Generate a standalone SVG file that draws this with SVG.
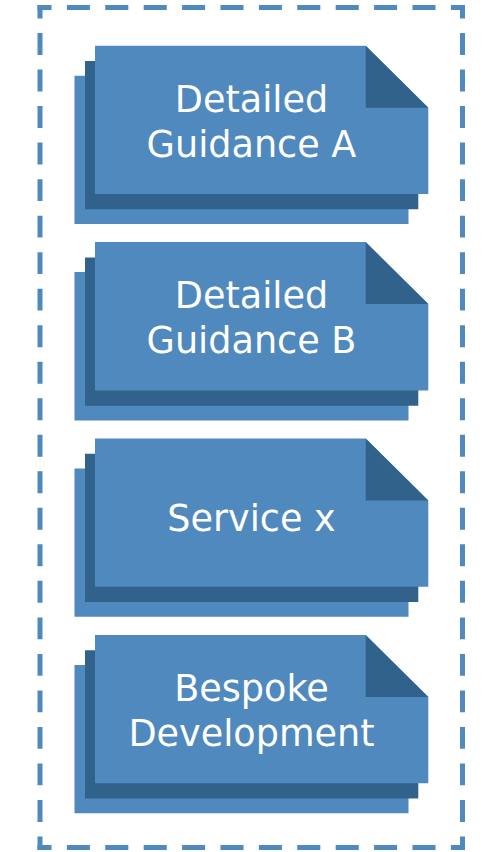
<svg xmlns="http://www.w3.org/2000/svg" width="500" height="852" viewBox="0 0 500 852">
<style>
.bd{fill:none;stroke:#4F89BD;stroke-width:5;stroke-linecap:butt}
.h{stroke-dasharray:23.04 15.36;stroke-dashoffset:9.02}
.v{stroke-dasharray:21.91 14.61;stroke-dashoffset:8.46}
.lt{fill:#4F89BD}
.dk{fill:#30628C}
.tx{font-family:"DejaVu Sans","Verdana",sans-serif;font-size:36.6px;fill:#FFFFFF;text-anchor:middle}
</style>
<defs>
<g id="stack">
<path class="lt" d="M74.5,30 H346 L408.5,92 V178.3 H74.5 Z"/>
<path class="dk" d="M85,15.3 H356 L418.3,77.3 V163.6 H85 Z"/>
<path class="lt" d="M95,0 H365.7 L428.3,62 V148.3 H95 Z"/>
<path class="dk" d="M365.7,0 L428.3,62 H365.7 Z"/>
</g>
</defs>
<g id="container">
<line class="bd h" x1="37.5" y1="7.5" x2="465" y2="7.5"/>
<line class="bd h" x1="37.5" y1="847.5" x2="465" y2="847.5"/>
<line class="bd v" x1="40" y1="5" x2="40" y2="850"/>
<line class="bd v" x1="462.5" y1="5" x2="462.5" y2="850"/>
</g>
<g id="node-guidance-a">
<use href="#stack" x="0" y="45.7"/>
<text class="tx" x="251.5" y="111.7">Detailed</text>
<text class="tx" x="251.5" y="156.7">Guidance A</text>
</g>
<g id="node-guidance-b">
<use href="#stack" x="0" y="242.1"/>
<text class="tx" x="251.5" y="308.1">Detailed</text>
<text class="tx" x="251.5" y="353.1">Guidance B</text>
</g>
<g id="node-service-x">
<use href="#stack" x="0" y="438.5"/>
<text class="tx" x="251.5" y="531">Service x</text>
</g>
<g id="node-bespoke">
<use href="#stack" x="0" y="635"/>
<text class="tx" x="251.5" y="701">Bespoke</text>
<text class="tx" x="251.5" y="746">Development</text>
</g>
<g id="connectors"/>
</svg>
